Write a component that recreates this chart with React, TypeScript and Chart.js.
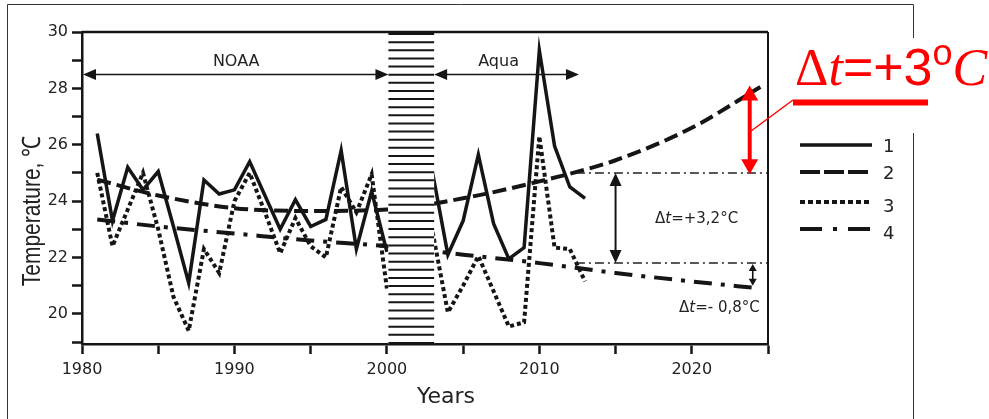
import React, { useEffect, useRef } from "react";
import { Chart, registerables } from "chart.js";

Chart.register(...registerables);

const W = 989;
const H = 419;

// ---- data ----
const noaaYears = [1981, 1982, 1983, 1984, 1985, 1986, 1987, 1988, 1989, 1990, 1991, 1992, 1993, 1994, 1995, 1996, 1997, 1998, 1999, 2000];
const series1Noaa = [26.4, 23.3, 25.2, 24.4, 25.05, 23.1, 21.1, 24.75, 24.25, 24.4, 25.4, 24.2, 23.0, 24.05, 23.1, 23.35, 25.8, 22.3, 24.35, 22.2];
const series3Noaa = [25.0, 22.4, 23.7, 25.0, 23.0, 20.6, 19.4, 22.3, 21.45, 24.0, 25.0, 23.6, 22.15, 23.4, 22.4, 22.0, 24.5, 23.6, 24.95, 20.9];

const aquaYears = [2003, 2004, 2005, 2006, 2007, 2008, 2009, 2010, 2011, 2012, 2013];
const series1Aqua = [25.0, 22.1, 23.3, 25.65, 23.2, 21.95, 22.35, 29.35, 25.95, 24.5, 24.1];
const series3Aqua = [22.9, 20.05, 21.0, 22.05, 20.8, 19.55, 19.7, 26.3, 22.35, 22.3, 21.15];

const trendYears = [1981, 1985, 1990, 1995, 2000, 2005, 2010, 2015, 2020, 2024.5];
const series2Trend = [24.76, 24.2, 23.75, 23.65, 23.7, 24.1, 24.7, 25.45, 26.6, 28.05];
const series4Trend = [23.35, 23.1, 22.85, 22.6, 22.4, 22.1, 21.8, 21.45, 21.15, 20.9];

const gapYear = 2001.5;
const bandStart = 2000.1;
const bandEnd = 2003.1;
const noaaSpan = [1980, 2000.1];
const aquaSpan = [2003.1, 2012.6];
const periodArrowLevel = 28.49;
const refUpper = 25.0;
const refLower = 21.8;
const refSpan = [2012.4, 2025];
const deltaArrowYear = 2015;
const smallArrowYear = 2024;
const smallArrowLow = 21.0;
const redArrowYear = 2023.8;
const redArrowTop = 28.1;
const redArrowBottom = 24.95;

const xTickValues = [1980, 1985, 1990, 1995, 2000, 2005, 2010, 2015, 2020, 2025];
const yTickValues = [19, 20, 21, 22, 23, 24, 25, 26, 27, 28, 29, 30];
const legendLabels = ["1", "2", "3", "4"];

const INK = "#151515";

function withGap(yearsA: number[], valsA: number[], yearsB: number[], valsB: number[]) {
  return [
    ...yearsA.map((x, i) => ({ x, y: valsA[i] })),
    { x: gapYear, y: null },
    ...yearsB.map((x, i) => ({ x, y: valsB[i] })),
  ];
}

function arrowHead(ctx: CanvasRenderingContext2D, tx: number, ty: number, dx: number, dy: number, len: number, half: number) {
  const px = -dy, py = dx;
  ctx.beginPath();
  ctx.moveTo(tx, ty);
  ctx.lineTo(tx - dx * len + px * half, ty - dy * len + py * half);
  ctx.lineTo(tx - dx * len - px * half, ty - dy * len - py * half);
  ctx.closePath();
  ctx.fill();
}

function hArrow(ctx: CanvasRenderingContext2D, x1: number, x2: number, yy: number) {
  ctx.lineWidth = 1.6;
  ctx.beginPath();
  ctx.moveTo(x1 + 8, yy);
  ctx.lineTo(x2 - 8, yy);
  ctx.stroke();
  arrowHead(ctx, x1, yy, -1, 0, 13, 5.5);
  arrowHead(ctx, x2, yy, 1, 0, 13, 5.5);
}

function vArrow(ctx: CanvasRenderingContext2D, xx: number, y1: number, y2: number, len: number, half: number, lw: number) {
  ctx.lineWidth = lw;
  ctx.beginPath();
  ctx.moveTo(xx, y1 + len * 0.6);
  ctx.lineTo(xx, y2 - len * 0.6);
  ctx.stroke();
  arrowHead(ctx, xx, y1, 0, -1, len, half);
  arrowHead(ctx, xx, y2, 0, 1, len, half);
}

function drawRuns(ctx: CanvasRenderingContext2D, x: number, y: number, runs: { t: string; f: string; dy?: number }[]) {
  let cx = x;
  ctx.textAlign = "left";
  ctx.textBaseline = "alphabetic";
  for (const r of runs) {
    ctx.font = r.f;
    ctx.fillText(r.t, cx, y + (r.dy || 0));
    cx += ctx.measureText(r.t).width;
  }
}

const overlayPlugin = {
  id: "overlay",
  afterDatasetsDraw(chart: any) {
    const { ctx, chartArea: a, scales } = chart;
    const x = scales.x, y = scales.y;
    ctx.save();

    // hatched gap band
    const bx1 = x.getPixelForValue(bandStart);
    const bx2 = x.getPixelForValue(bandEnd);
    ctx.fillStyle = "#ffffff";
    ctx.fillRect(bx1, a.top, bx2 - bx1, a.bottom - a.top);
    ctx.strokeStyle = INK;
    ctx.lineWidth = 2;
    for (let yy = a.top + 2; yy < a.bottom - 1; yy += 8.13) {
      ctx.beginPath();
      ctx.moveTo(bx1, yy);
      ctx.lineTo(bx2, yy);
      ctx.stroke();
    }

    // reference dash-dot lines
    ctx.strokeStyle = "#222";
    ctx.lineWidth = 1.5;
    ctx.setLineDash([9, 4, 2, 4]);
    for (const v of [refUpper, refLower]) {
      ctx.beginPath();
      ctx.moveTo(x.getPixelForValue(refSpan[0]), y.getPixelForValue(v));
      ctx.lineTo(x.getPixelForValue(refSpan[1]), y.getPixelForValue(v));
      ctx.stroke();
    }
    ctx.setLineDash([]);

    // period arrows
    ctx.fillStyle = INK;
    ctx.strokeStyle = INK;
    const ay = y.getPixelForValue(periodArrowLevel);
    hArrow(ctx, x.getPixelForValue(noaaSpan[0]) + 1, x.getPixelForValue(noaaSpan[1]), ay);
    hArrow(ctx, x.getPixelForValue(aquaSpan[0]), x.getPixelForValue(aquaSpan[1]), ay);
    ctx.fillStyle = "#222";
    ctx.font = "16px 'DejaVu Sans'";
    ctx.textAlign = "center";
    ctx.textBaseline = "alphabetic";
    ctx.fillText("NOAA", (x.getPixelForValue(noaaSpan[0]) + x.getPixelForValue(noaaSpan[1])) / 2 + 1, ay - 9);
    ctx.fillText("Aqua", (x.getPixelForValue(aquaSpan[0]) + x.getPixelForValue(aquaSpan[1])) / 2 - 8, ay - 9);

    // black delta arrows
    ctx.fillStyle = INK;
    ctx.strokeStyle = INK;
    vArrow(ctx, x.getPixelForValue(deltaArrowYear), y.getPixelForValue(refUpper), y.getPixelForValue(refLower), 13, 6, 2);
    vArrow(ctx, x.getPixelForValue(smallArrowYear), y.getPixelForValue(refLower) + 1, y.getPixelForValue(smallArrowLow), 7, 4, 1.6);

    ctx.fillStyle = "#222";
    drawRuns(ctx, 655, 222.5, [
      { t: "Δ", f: "15px 'DejaVu Sans'" },
      { t: "t", f: "italic 15px 'DejaVu Sans'" },
      { t: "=+3,2°C", f: "15px 'DejaVu Sans'" },
    ]);
    drawRuns(ctx, 679, 311.5, [
      { t: "Δ", f: "15px 'DejaVu Sans'" },
      { t: "t", f: "italic 15px 'DejaVu Sans'" },
      { t: "=- 0,8°C", f: "15px 'DejaVu Sans'" },
    ]);

    // red arrow
    ctx.fillStyle = "#ff0000";
    ctx.strokeStyle = "#ff0000";
    vArrow(ctx, x.getPixelForValue(redArrowYear), y.getPixelForValue(redArrowTop), y.getPixelForValue(redArrowBottom), 15, 8.5, 4);

    // plot box top / right
    ctx.strokeStyle = INK;
    ctx.lineWidth = 2.5;
    ctx.beginPath();
    ctx.moveTo(a.left, a.top);
    ctx.lineTo(a.right, a.top);
    ctx.stroke();
    ctx.lineWidth = 2;
    ctx.beginPath();
    ctx.moveTo(a.right, a.top);
    ctx.lineTo(a.right, a.bottom);
    ctx.stroke();
    ctx.restore();
  },
  afterDraw(chart: any) {
    const { ctx, scales } = chart;
    const x = scales.x, y = scales.y;
    ctx.save();

    // outer frame
    ctx.strokeStyle = "#333";
    ctx.lineWidth = 1;
    ctx.beginPath();
    ctx.moveTo(7.5, 419);
    ctx.lineTo(7.5, 4.5);
    ctx.lineTo(913.5, 4.5);
    ctx.lineTo(913.5, 38);
    ctx.moveTo(913.5, 133);
    ctx.lineTo(913.5, 419);
    ctx.stroke();

    // axis titles
    ctx.fillStyle = "#222";
    ctx.font = "22px 'DejaVu Sans'";
    ctx.textAlign = "center";
    ctx.textBaseline = "alphabetic";
    ctx.fillText("Years", 446, 402.5);
    ctx.save();
    ctx.translate(33, 211);
    ctx.scale(1.2, 1);
    ctx.rotate(-Math.PI / 2);
    ctx.font = "21px 'Liberation Sans'";
    ctx.textBaseline = "middle";
    ctx.fillText("Temperature, ℃", 0, 0);
    ctx.restore();

    // legend
    const ly = [145, 172, 202, 229];
    const lb = [151.5, 178.5, 211.5, 238.5];
    const styles = [
      { w: 3.5, d: [] as number[] },
      { w: 4, d: [20, 4] },
      { w: 4, d: [5, 3] },
      { w: 4, d: [22, 11, 4, 11] },
    ];
    ctx.strokeStyle = INK;
    ctx.lineCap = "butt";
    styles.forEach((s, i) => {
      ctx.lineWidth = s.w;
      ctx.setLineDash(s.d);
      ctx.beginPath();
      ctx.moveTo(800, ly[i]);
      ctx.lineTo(872, ly[i]);
      ctx.stroke();
    });
    ctx.setLineDash([]);
    ctx.fillStyle = "#222";
    ctx.font = "18px 'DejaVu Sans'";
    ctx.textAlign = "left";
    legendLabels.forEach((t, i) => ctx.fillText(t, 883, lb[i]));

    // red annotation
    ctx.fillStyle = "#ffffff";
    ctx.fillRect(790, 38, 198, 72);
    ctx.fillStyle = "#ff0000";
    drawRuns(ctx, 795, 85, [
      { t: "Δ", f: "52px 'Liberation Serif'" },
      { t: "t", f: "italic 52px 'Liberation Serif'" },
      { t: "=+3", f: "52px 'Liberation Sans'" },
      { t: "o", f: "36px 'Liberation Sans'", dy: -20 },
      { t: "C", f: "italic 52px 'Liberation Serif'" },
    ]);
    ctx.fillRect(793, 99.5, 135, 6);
    ctx.strokeStyle = "#ff0000";
    ctx.lineWidth = 1.5;
    ctx.beginPath();
    ctx.moveTo(793, 100);
    ctx.lineTo(x.getPixelForValue(redArrowYear), 132);
    ctx.stroke();
    ctx.restore();
  },
};

export default function App() {
  const ref = useRef<HTMLCanvasElement | null>(null);

  useEffect(() => {
    const canvas = ref.current;
    if (!canvas) return;
    const base = {
      pointRadius: 0,
      borderColor: INK,
      spanGaps: false,
      borderCapStyle: "butt" as const,
    };
    const chart = new Chart(canvas, {
      type: "line",
      data: {
        datasets: [
          {
            ...base,
            label: "1",
            data: withGap(noaaYears, series1Noaa, aquaYears, series1Aqua),
            borderWidth: 3.5,
            borderJoinStyle: "miter",
          },
          {
            ...base,
            label: "2",
            data: trendYears.map((x, i) => ({ x, y: series2Trend[i] })),
            borderWidth: 4,
            borderDash: [14, 6],
            cubicInterpolationMode: "monotone",
          },
          {
            ...base,
            label: "3",
            data: withGap(noaaYears, series3Noaa, aquaYears, series3Aqua),
            borderWidth: 4,
            borderDash: [4, 3],
          },
          {
            ...base,
            label: "4",
            data: trendYears.map((x, i) => ({ x, y: series4Trend[i] })),
            borderWidth: 4,
            borderDash: [18, 9, 4, 9],
            cubicInterpolationMode: "monotone",
          },
        ],
      } as any,
      options: {
        animation: false,
        responsive: false,
        maintainAspectRatio: false,
        devicePixelRatio: 1,
        layout: { padding: { left: 0, top: 32, right: W - 768, bottom: 0 } },
        plugins: { legend: { display: false }, tooltip: { enabled: false } },
        scales: {
          x: {
            type: "linear",
            min: 1980,
            max: 2025,
            afterBuildTicks: (s: any) => {
              s.ticks = xTickValues.map((value) => ({ value }));
            },
            afterFit: (s: any) => {
              s.height = 75;
            },
            ticks: {
              color: "#222",
              font: { family: "DejaVu Sans", size: 16 },
              padding: 6,
              maxRotation: 0,
              autoSkip: false,
              callback: (v: any) => (Number(v) % 10 === 0 ? String(v) : ""),
            },
            grid: { drawOnChartArea: false, drawTicks: true, tickLength: 10, tickWidth: 2.5, tickColor: INK },
            border: { display: true, color: INK, width: 2.5 },
          },
          y: {
            type: "linear",
            min: 18.93,
            max: 30,
            afterBuildTicks: (s: any) => {
              s.ticks = yTickValues.map((value) => ({ value }));
            },
            afterFit: (s: any) => {
              s.width = 82;
            },
            ticks: {
              color: "#222",
              font: { family: "DejaVu Sans", size: 16 },
              padding: 4,
              autoSkip: false,
              callback: (v: any) => (Number(v) % 2 === 0 ? String(v) : ""),
            },
            grid: { drawOnChartArea: false, drawTicks: true, tickLength: 10, tickWidth: 2.5, tickColor: INK },
            border: { display: true, color: INK, width: 2.5 },
          },
        },
      },
      plugins: [overlayPlugin],
    } as any);
    return () => chart.destroy();
  }, []);

  return (
    <div style={{ position: "fixed", left: 0, top: 0, width: W, height: H, background: "#fff" }}>
      <canvas ref={ref} width={W} height={H} style={{ display: "block", width: W, height: H }} />
    </div>
  );
}
